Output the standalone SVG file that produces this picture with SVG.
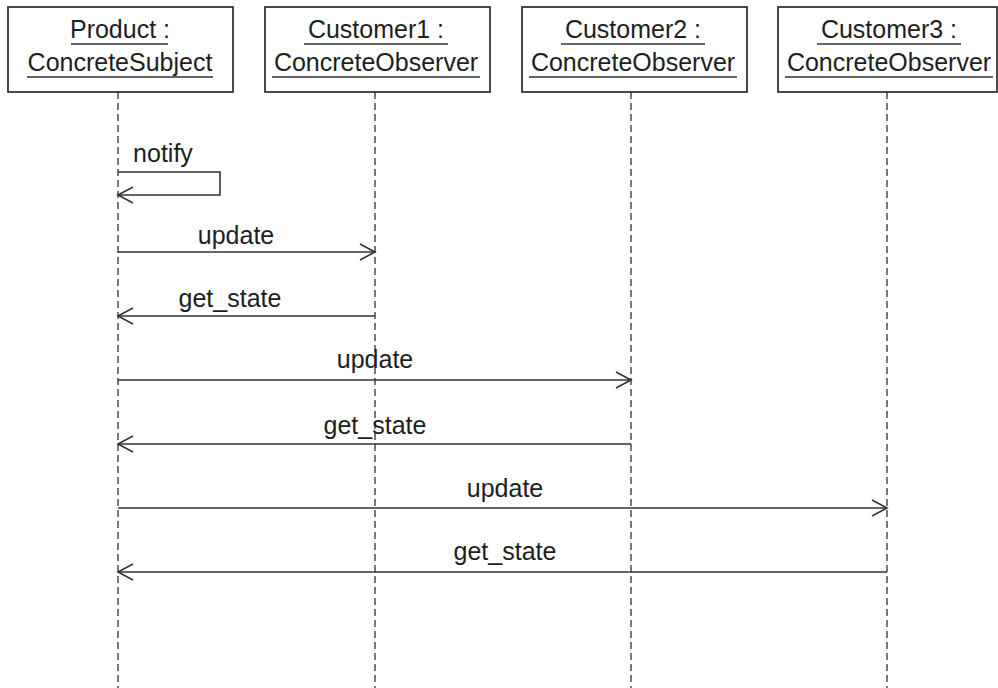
<svg xmlns="http://www.w3.org/2000/svg" width="998" height="688" viewBox="0 0 998 688">
<style>
.box{fill:#fff;stroke:#2a2a2a;stroke-width:1.7}
.t{font-family:"Liberation Sans",Arial,sans-serif;font-size:25px;fill:#1e1e1e;text-anchor:middle}
.ul{stroke:#333;stroke-width:1.4}
.life{stroke:#555;stroke-width:1.6;stroke-dasharray:7 4;fill:none}
.msg{stroke:#333;stroke-width:1.6;fill:none}
.head{stroke:#333;stroke-width:1.6;fill:none}
</style>
<rect width="998" height="688" fill="#fff"/>
<g id="lifelines">
<line class="life" x1="118" y1="92" x2="118" y2="688"/>
<line class="life" x1="375" y1="92" x2="375" y2="688"/>
<line class="life" x1="631" y1="92" x2="631" y2="688"/>
<line class="life" x1="887" y1="92" x2="887" y2="688"/>
</g>
<g id="product">
<rect class="box" x="8" y="7" width="225" height="85"/>
<text class="t" x="120" y="38">Product :</text>
<line class="ul" x1="71" y1="44" x2="168" y2="44"/>
<text class="t" x="120" y="71">ConcreteSubject</text>
<line class="ul" x1="27" y1="77" x2="213" y2="77"/>
</g>
<g id="customer1">
<rect class="box" x="265" y="7" width="225" height="85"/>
<text class="t" x="376" y="38">Customer1 :</text>
<line class="ul" x1="304" y1="44" x2="448" y2="44"/>
<text class="t" x="376" y="71">ConcreteObserver</text>
<line class="ul" x1="272" y1="77" x2="480" y2="77"/>
</g>
<g id="customer2">
<rect class="box" x="522" y="7" width="225" height="85"/>
<text class="t" x="633" y="38">Customer2 :</text>
<line class="ul" x1="561" y1="44" x2="705" y2="44"/>
<text class="t" x="633" y="71">ConcreteObserver</text>
<line class="ul" x1="529" y1="77" x2="737" y2="77"/>
</g>
<g id="customer3">
<rect class="box" x="778" y="7" width="219" height="85"/>
<text class="t" x="889" y="38">Customer3 :</text>
<line class="ul" x1="817" y1="44" x2="961" y2="44"/>
<text class="t" x="889" y="71">ConcreteObserver</text>
<line class="ul" x1="785" y1="77" x2="993" y2="77"/>
</g>
<g id="connectors">
<path class="msg" d="M118 172 H220 V195 H118"/>
<path class="head" d="M133 187 L118 195 L133 203"/>
<text class="t" x="163" y="162">notify</text>

<line class="msg" x1="118" y1="252" x2="375" y2="252"/>
<path class="head" d="M360 244 L375 252 L360 260"/>
<text class="t" x="236" y="244">update</text>

<line class="msg" x1="375" y1="316" x2="118" y2="316"/>
<path class="head" d="M133 308 L118 316 L133 324"/>
<text class="t" x="230" y="307">get_state</text>

<line class="msg" x1="118" y1="380" x2="631" y2="380"/>
<path class="head" d="M616 372 L631 380 L616 388"/>
<text class="t" x="375" y="368">update</text>

<line class="msg" x1="631" y1="444" x2="118" y2="444"/>
<path class="head" d="M133 436 L118 444 L133 452"/>
<text class="t" x="375" y="434">get_state</text>

<line class="msg" x1="118" y1="508" x2="887" y2="508"/>
<path class="head" d="M872 500 L887 508 L872 516"/>
<text class="t" x="505" y="497">update</text>

<line class="msg" x1="887" y1="572" x2="118" y2="572"/>
<path class="head" d="M133 564 L118 572 L133 580"/>
<text class="t" x="505" y="560">get_state</text>
</g>
</svg>
